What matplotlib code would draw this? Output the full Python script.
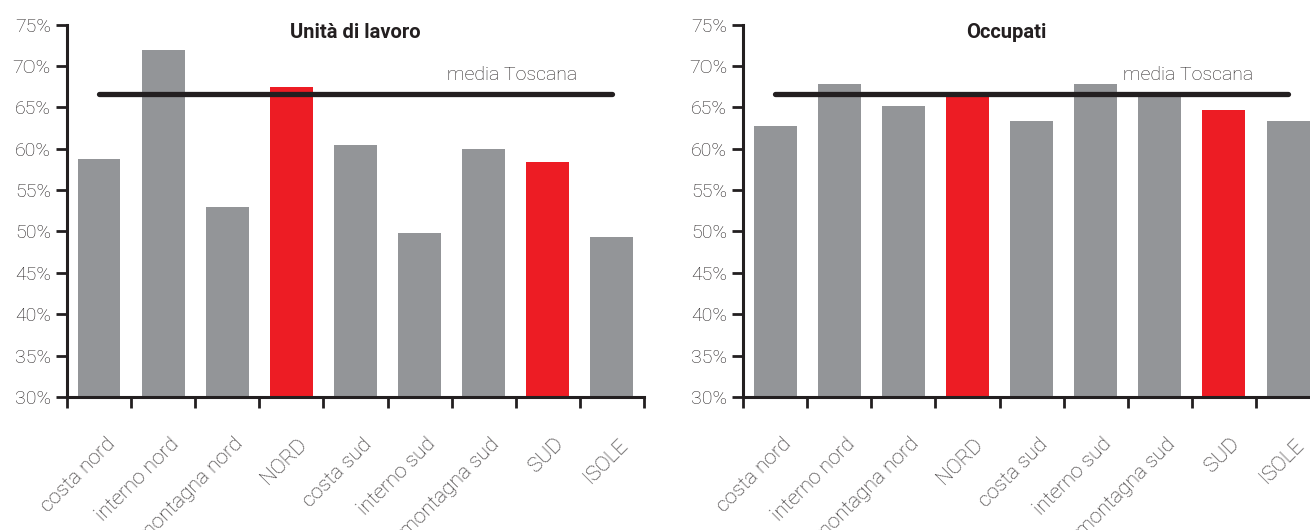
import numpy as np
import matplotlib
matplotlib.use("Agg")
import matplotlib.pyplot as plt
import matplotlib.transforms as mtransforms

plt.rcParams['font.family'] = ['Roboto', 'DejaVu Sans']

# dati
categorie = ["costa nord", "interno nord", "montagna nord", "NORD", "costa sud",
             "interno sud", "montagna sud", "SUD", "ISOLE"]
unita_lavoro = [58.7, 71.9, 53.0, 67.5, 60.5, 49.8, 60.0, 58.4, 49.3]
occupati = [62.7, 67.8, 65.1, 66.5, 63.4, 67.8, 66.5, 64.7, 63.4]
media_unita = 66.6
media_occupati = 66.6
evidenziati = ["NORD", "SUD"]
yticks = [30, 35, 40, 45, 50, 55, 60, 65, 70, 75]
ytick_labels = ["30%", "35%", "40%", "45%", "50%", "55%", "60%", "65%", "7O%", "75%"]

grigio = "#939598"
rosso = "#ED1C24"
nero = "#231F20"

fig = plt.figure(figsize=(13.1, 5.3), dpi=100)
ax1 = fig.add_axes([0.0511, 0.2509, 0.4405, 0.7028])
ax2 = fig.add_axes([0.5672, 0.2509, 0.4405, 0.7028])


def disegna(ax, valori, media, titolo, x_titolo):
    x = np.arange(len(categorie))
    colori = [rosso if c in evidenziati else grigio for c in categorie]
    ax.bar(x, np.array(valori) - 30, bottom=30, width=0.67, color=colori, zorder=2)
    ax.plot([0, 8], [media, media], color=nero, lw=3.8, solid_capstyle="round", zorder=3)
    ax.text(7.45, media + 2.35, "media Toscana", ha="right", va="center",
            fontsize=14, fontweight="light", color=nero)
    ax.text(x_titolo, 74.0, titolo, ha="center", va="center",
            fontsize=14.5, fontweight="bold", color=nero)

    ax.set_xlim(-0.5, 8.5)
    ax.set_ylim(30, 75)
    ax.set_yticks(yticks)
    ax.set_yticklabels(ytick_labels, fontsize=14, fontweight="light", color=nero)
    ax.set_xticks(np.arange(-0.5, 9, 1))
    ax.set_xticklabels([])
    ax.set_xticks(x, categorie, minor=True)
    ax.tick_params(axis="x", which="minor", length=0, pad=27)
    ax.tick_params(axis="both", which="major", length=8, width=2, color=nero)
    spost = mtransforms.ScaledTranslation(6 / 100, 0, fig.dpi_scale_trans)
    for lab in ax.get_xticklabels(minor=True):
        lab.set_rotation(45)
        lab.set_ha("right")
        lab.set_rotation_mode("anchor")
        lab.set_fontsize(15)
        lab.set_fontweight("light")
        lab.set_color(nero)
        lab.set_transform(lab.get_transform() + spost)
    for s in ["top", "right"]:
        ax.spines[s].set_visible(False)
    for s in ["left", "bottom"]:
        ax.spines[s].set_linewidth(2.2)
        ax.spines[s].set_color(nero)


disegna(ax1, unita_lavoro, media_unita, "Unità di lavoro", 4.0)
disegna(ax2, occupati, media_occupati, "Occupati", 3.6)

fig.savefig("out.png", dpi=100)
